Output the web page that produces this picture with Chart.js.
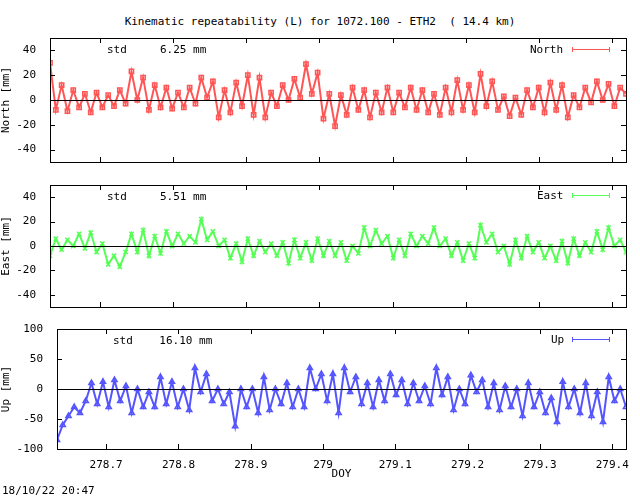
<!DOCTYPE html>
<html><head><meta charset="utf-8">
<script src="https://cdn.jsdelivr.net/npm/chart.js@4/dist/chart.umd.min.js"></script>
<style>
body{margin:0;width:640px;height:496px;background:#fff;position:relative;font-family:"DejaVu Sans Mono",monospace;font-size:11px;overflow:hidden}
canvas{position:absolute;left:0}
.t{position:absolute;white-space:pre;color:#000}
.leg{position:absolute;height:5px;border-top:0;border-left:1px solid;border-right:1px solid}
.leg::after{content:"";position:absolute;left:0;right:0;top:2px;border-top:1px solid}
</style></head><body>
<div class="t" style="left:0;width:640px;text-align:center;top:15px">Kinematic repeatability (L) for 1072.100 - ETH2  ( 14.4 km)</div>
<canvas id="c1" width="640" height="150" style="top:25px"></canvas>
<canvas id="c2" width="640" height="150" style="top:172px"></canvas>
<canvas id="c3" width="640" height="175" style="top:316px"></canvas>
<div class="t" style="left:107px;top:43px">std     6.25 mm</div>
<div class="t" style="left:107px;top:190px">std     5.51 mm</div>
<div class="t" style="left:113px;top:334px">std    16.10 mm</div>
<div class="t" style="left:530px;top:43px">North</div>
<div class="t" style="left:537px;top:189px">East</div>
<div class="t" style="left:551px;top:333px">Up</div>
<div class="leg" style="left:572px;top:47px;width:36px;color:#ff5555"></div>
<div class="leg" style="left:572px;top:193px;width:36px;color:#55ff55"></div>
<div class="leg" style="left:572px;top:337px;width:36px;color:#5555ff"></div>
<div class="t" style="left:2px;top:484px">18/10/22 20:47</div>
<script>
const xStart = 278.632, xEnd = 279.419;
const north = [30,-8,12,-9,8,-6, 5,-10,6,-6,4,-5, 8,-3,23,0,18, -8,12,-6,10,-7, 6,-6,10,-3,18,2, 15,-14,8,-10,14,-5,
 20,-12,18,-14,6,-5, 12,0,17,2,29,5, 22,-15,5,-21,4,-12, 10,-8,8,-14,6,-10, 10,-10,6,-6,10,-8, 8,-10,5,-12,10,-10,
 16,-8,12,-10,21,-5, 15,-8,3,-13,2,-12, 8,-6,10,-10,14,-8, 12,-14,4,-6,10,-2, 15,0,13,-5,10,5];
const east = [-8,6,-3,5,0,10,-2,11, -5,2,-15,-8,-17,-5, 10,-5,13,-8,8,-6, 12,0,10,2,8,3, 22,5,12,0, 5,-10,2,-13,6,-8,
 4,-5,2,-8,3,-14, 5,-10,3,-12,6,-8, 4,-8,3,-12,0,-6, 15,0,13,2,8,-10, 5,-8,10,0,8,2, 15,0,6,-8,3,-12,
 2,-10,17,3,10,-5, 0,-15,5,-10,8,-5, 3,-10,0,-12,4,-14, 6,-8,3,-5,12,-3, 15,0,5,-5];
const up = [-85,-60,-45,-30,-40,-20, 10,-25,12,-30,15,-20, 5,-40,0,-30,-5,-30, 20,-25,12,-30,0,-35, 35,-5,25,-20,0,-25,
 -5,-62,0,-30,0,-40, 20,-35,0,-25,10,-30, 0,-30,35,0,25,-20, 25,-40,35,-5,20,-25, 10,-30,15,-20,25,-10,
 15,-25,10,-20,5,-25, 35,-10,20,-35,0,-25, 23,-5,15,-30,10,-35, 5,-30,0,-45,10,-30, -5,-40,-15,-55,12,-30,
 0,-40,10,-45,-5,-55, 20,-20,0,-30];
const xTicks = [278.7,278.8,278.9,279,279.1,279.2,279.3,279.4];
const areas = {c1:[38,162,25], c2:[185,307,172], c3:[329,449,316]};
const XH = 32;
const frame = {id:'frame', afterDraw(c){const a=c.chartArea,x=c.ctx,ys=c.scales.y,xs=c.scales.x;
 x.save();x.strokeStyle='#000';x.lineWidth=1;
 x.beginPath();x.moveTo(a.left,Math.round(ys.getPixelForValue(0))+0.5);x.lineTo(a.right,Math.round(ys.getPixelForValue(0))+0.5);x.stroke();
 x.strokeRect(Math.round(a.left)+0.5,Math.round(a.top)+0.5,Math.round(a.right-a.left),Math.round(a.bottom-a.top));
 ys.ticks.forEach(t=>{const p=Math.round(ys.getPixelForValue(t.value))+0.5;x.beginPath();x.moveTo(a.left,p);x.lineTo(a.left+5,p);x.moveTo(a.right,p);x.lineTo(a.right-5,p);x.stroke();});
 xTicks.forEach(v=>{const p=Math.round(xs.getPixelForValue(v))+0.5;x.beginPath();x.moveTo(p,a.bottom);x.lineTo(p,a.bottom-5);x.moveTo(p,a.top);x.lineTo(p,a.top+5);x.stroke();});
 x.restore();}};
function mk(id,vals,col,ps,ymin,ymax,yt,title,yw,showX){
 const step=(xEnd-xStart)/(vals.length-1);
 const pts=vals.map((v,i)=>({x:xStart+i*step,y:v}));
 const ar=areas[id], cv=document.getElementById(id);
 const padTop=ar[0]-ar[2], padBottom=cv.height-(ar[1]-ar[2])-(showX?XH:0);
 new Chart(cv,{type:'scatter',
  data:{datasets:[{data:pts,showLine:true,borderColor:col,borderWidth:2,pointStyle:ps,pointRadius:3,pointBorderColor:col,pointBackgroundColor:'rgba(0,0,0,0)',pointBorderWidth:1.5}]},
  options:{animation:false,responsive:false,devicePixelRatio:1,
   layout:{padding:{top:padTop,right:14,bottom:padBottom,left:0}},
   plugins:{legend:{display:false},tooltip:{enabled:false}},
   scales:{
    x:{type:'linear',min:xStart,max:xEnd,display:showX,grid:{display:false},border:{display:false},
       afterBuildTicks(s){s.ticks=xTicks.map(v=>({value:v}));},afterFit(s){s.height=showX?XH:0;},
       ticks:{color:'#000',font:{family:'DejaVu Sans Mono',size:11},maxRotation:0,padding:2,callback:v=>String(v)},
       title:{display:showX,text:'DOY',color:'#000',font:{family:'DejaVu Sans Mono',size:11},padding:0}},
    y:{min:ymin,max:ymax,grid:{display:false},border:{display:false},
       afterBuildTicks(s){s.ticks=yt.map(v=>({value:v}));},afterFit(s){s.width=yw;},
       ticks:{color:'#000',font:{family:'DejaVu Sans Mono',size:11},padding:6},
       title:{display:true,text:title,color:'#000',font:{family:'DejaVu Sans Mono',size:11},padding:0}}}},
  plugins:[frame]});
}
mk('c1',north,'#ff5555','rect',-50,50,[-40,-20,0,20,40],'North [mm]',50,false);
mk('c2',east,'#55ff55','crossRot',-50,50,[-40,-20,0,20,40],'East [mm]',50,false);
mk('c3',up,'#5555ff','triangle',-100,100,[-100,-50,0,50,100],'Up [mm]',57,true);
</script></body></html>
